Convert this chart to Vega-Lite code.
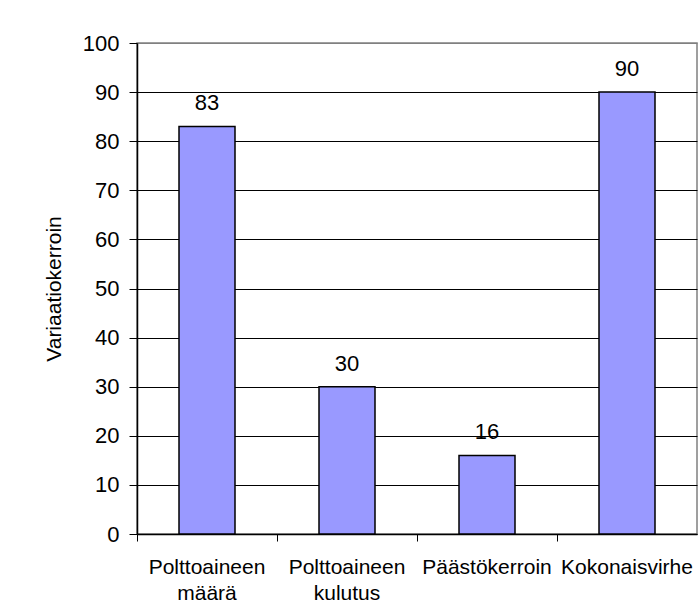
{
  "$schema": "https://vega.github.io/schema/vega-lite/v6.json",
  "width": 560,
  "height": 491,
  "autosize": {"type": "none"},
  "padding": {"left": 137, "top": 43, "right": 2, "bottom": 73},
  "background": "white",
  "config": {
    "font": "Liberation Sans",
    "view": {"stroke": "#808080", "strokeWidth": 1.5},
    "axis": {"labelColor": "black", "titleColor": "black", "domainColor": "black", "tickColor": "black"}
  },
  "data": {
    "values": [
      {"kategoria": "Polttoaineen määrä", "arvo": 83},
      {"kategoria": "Polttoaineen kulutus", "arvo": 30},
      {"kategoria": "Päästökerroin", "arvo": 16},
      {"kategoria": "Kokonaisvirhe", "arvo": 90}
    ]
  },
  "encoding": {
    "x": {
      "field": "kategoria",
      "type": "nominal",
      "sort": null,
      "scale": {"paddingInner": 0.6, "paddingOuter": 0.3},
      "axis": {
        "title": null,
        "labelAngle": 0,
        "labelFontSize": 21,
        "labelExpr": "split(datum.label, ' ')",
        "labelLineHeight": 26,
        "labelPadding": 15,
        "bandPosition": -0.75,
        "tickSize": 7,
        "tickWidth": 1,
        "domainWidth": 1.5,
        "labelBaseline": "top"
      }
    },
    "y": {
      "field": "arvo",
      "type": "quantitative",
      "scale": {"domain": [0, 100], "nice": false},
      "axis": {
        "title": "Variaatiokerroin",
        "titleFontSize": 21,
        "titleFontWeight": "normal",
        "titlePadding": 18,
        "values": [0, 10, 20, 30, 40, 50, 60, 70, 80, 90, 100],
        "labelFontSize": 22,
        "labelPadding": 10,
        "tickSize": 8,
        "domainWidth": 1.5,
        "gridColor": {"condition": {"test": "datum.value == 100", "value": "#808080"}, "value": "#000000"},
        "gridWidth": 1
      }
    }
  },
  "layer": [
    {
      "mark": {"type": "bar", "color": "#9999FF", "stroke": "black", "strokeWidth": 1.5}
    },
    {
      "mark": {"type": "text", "fontSize": 22, "dy": -16, "baseline": "alphabetic", "color": "black"},
      "encoding": {"text": {"field": "arvo", "type": "quantitative"}}
    }
  ]
}
